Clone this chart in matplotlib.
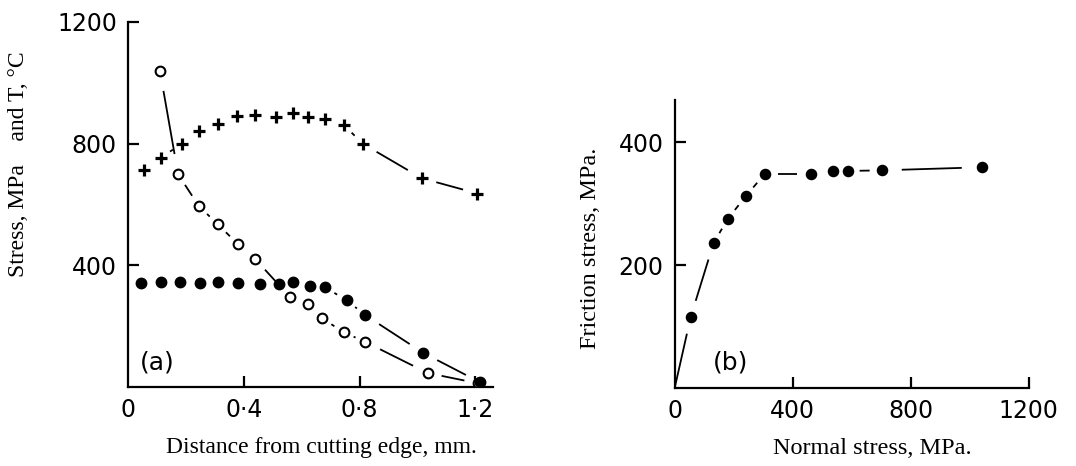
import numpy as np
import matplotlib
matplotlib.use('Agg')
from matplotlib import pyplot as plt

# (a) distance from cutting edge, mm
temp_x = [0.055, 0.113, 0.187, 0.245, 0.31, 0.375, 0.44, 0.51, 0.57, 0.62, 0.68, 0.745, 0.81, 1.015, 1.207]
temp_y = [712, 754, 800, 840, 866, 892, 895, 889, 902, 889, 882, 862, 800, 686, 636]

open_x = [0.11, 0.173, 0.245, 0.31, 0.38, 0.44, 0.56, 0.62, 0.67, 0.745, 0.82, 1.035, 1.21]
open_y = [1040, 699, 594, 535, 469, 420, 295, 272, 226, 180, 148, 46, 12]

fill_x = [0.045, 0.115, 0.18, 0.25, 0.31, 0.38, 0.455, 0.52, 0.57, 0.63, 0.68, 0.755, 0.82, 1.02, 1.215]
fill_y = [341, 345, 345, 341, 345, 341, 338, 338, 345, 331, 328, 285, 236, 112, 16]

# (b) normal stress vs friction stress, MPa
normal = [54, 132, 180, 241, 305, 461, 536, 586, 702, 1041]
friction = [115, 236, 275, 312, 348, 348, 353, 353, 354, 359]

tick_font = ['DejaVu Sans']
label_font = ['Liberation Serif', 'DejaVu Serif']


def gapped_line(ax, xs, ys, gap_first=True):
    # segments between points, trimmed near the markers (in pixels)
    pts = ax.transData.transform(np.column_stack([xs, ys]))
    inv = ax.transData.inverted()
    for i in range(len(pts) - 1):
        p0, p1 = pts[i], pts[i + 1]
        d = p1 - p0
        L = np.hypot(*d)
        gap = 8 + 0.12 * L
        g0 = gap if (i > 0 or gap_first) else 0
        if L < g0 + gap + 2:
            continue
        u = d / L
        a = inv.transform(p0 + u * g0)
        b = inv.transform(p1 - u * gap)
        ax.plot([a[0], b[0]], [a[1], b[1]], color='black', lw=1.3,
                solid_capstyle='butt', zorder=2)


def style_axes(ax):
    for s in ['top', 'right']:
        ax.spines[s].set_visible(False)
    for s in ['left', 'bottom']:
        ax.spines[s].set_linewidth(1.6)
    ax.tick_params(direction='in', length=8, width=1.6, pad=8,
                   labelsize=17)
    for lab in ax.get_xticklabels() + ax.get_yticklabels():
        lab.set_family(tick_font)


fig = plt.figure(figsize=(10.76, 4.66), dpi=100)

# ---- panel (a)
ax1 = fig.add_axes([0.119, 0.1695, 0.339, 0.7835])
ax1.set_xlim(0, 1.26)
ax1.set_ylim(0, 1200)
ax1.set_xticks([0, 0.4, 0.8, 1.2])
ax1.set_xticklabels(['0', '0·4', '0·8', '1·2'])
ax1.set_yticks([400, 800, 1200])
style_axes(ax1)
ax1.xaxis.get_major_ticks()[0].tick1line.set_visible(False)

gapped_line(ax1, temp_x, temp_y)
gapped_line(ax1, open_x, open_y)
gapped_line(ax1, fill_x, fill_y)
ax1.plot(temp_x, temp_y, ls='none', marker='+', ms=8.5, mew=2.3, color='black', zorder=3)
ax1.plot(open_x, open_y, ls='none', marker='o', ms=7, mew=1.5, mfc='white', mec='black', zorder=3)
ax1.plot(fill_x, fill_y, ls='none', marker='o', ms=7.5, color='black', zorder=4)
ax1.text(0.04, 82, '(a)', fontsize=18, family=tick_font, va='center')

# ---- panel (b)
ax2 = fig.add_axes([0.627, 0.167, 0.329, 0.618])
ax2.set_xlim(0, 1200)
ax2.set_ylim(0, 468)
ax2.set_xticks([0, 400, 800, 1200])
ax2.set_yticks([200, 400])
style_axes(ax2)
ax2.xaxis.get_major_ticks()[0].tick1line.set_visible(False)

gapped_line(ax2, [0] + normal, [0] + friction, gap_first=False)
ax2.plot(normal, friction, ls='none', marker='o', ms=7.3, color='black', zorder=3)
ax2.text(130, 42, '(b)', fontsize=18, family=tick_font, va='center')

# axis titles
fig.text(0.017, 1 - 164 / 466, 'Stress, MPa    and T, °C', rotation=90, ha='center',
         va='center', fontsize=17, family=label_font)
fig.text(321 / 1076, 1 - 447 / 466, 'Distance from cutting edge, mm.', ha='center',
         va='center', fontsize=17, family=label_font)
fig.text(590 / 1076, 1 - 248 / 466, 'Friction stress, MPa.', rotation=90, ha='center',
         va='center', fontsize=17.5, family=label_font)
fig.text(872 / 1076, 1 - 448 / 466, 'Normal stress, MPa.', ha='center',
         va='center', fontsize=17.5, family=label_font)

fig.savefig('out.png', dpi=100)
